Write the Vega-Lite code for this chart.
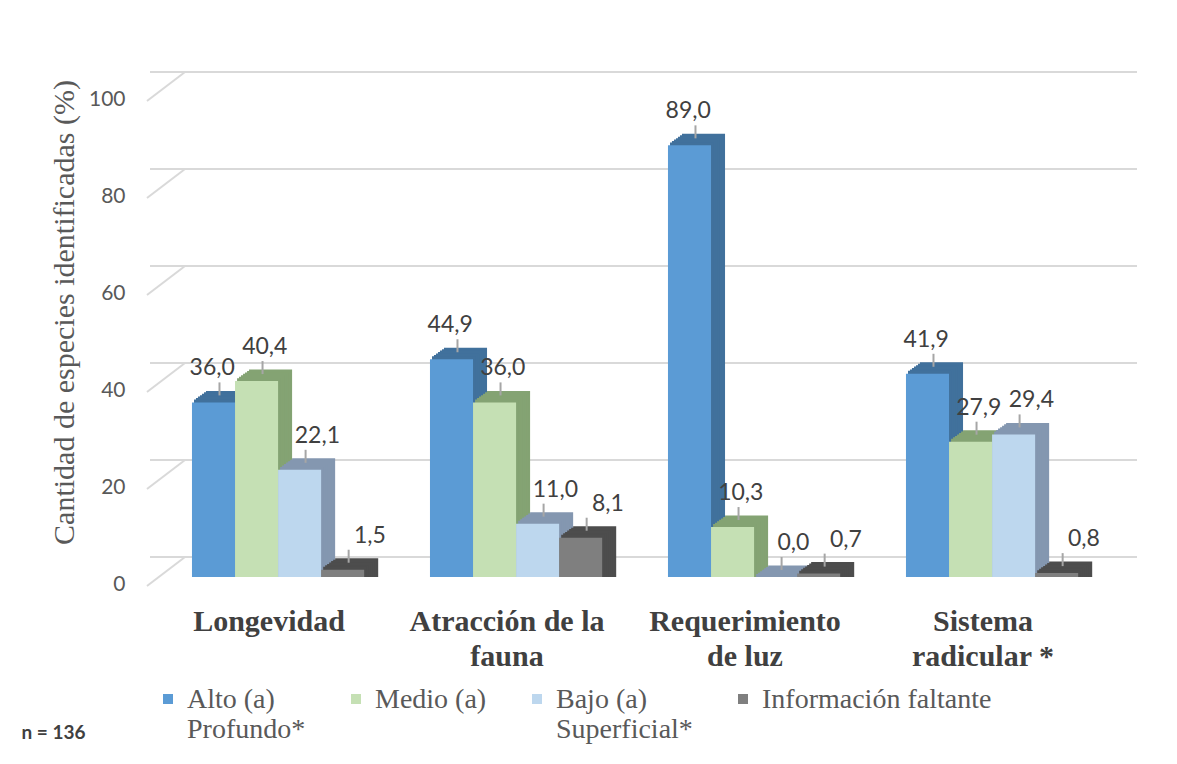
{
  "$schema": "https://vega.github.io/schema/vega-lite/v6.json",
  "width": 952,
  "height": 485,
  "autosize": {"type": "none"},
  "padding": {"left": 150, "top": 92, "right": 75, "bottom": 187},
  "background": "white",
  "title": {"text": "n = 136", "orient": "bottom", "anchor": "start", "frame": "bounds", "font": "Lato", "fontWeight": "bold", "fontSize": 19, "color": "#404040", "dx": -28, "offset": -20},
  "config": {
    "view": {"stroke": null},
    "locale": {"number": {"decimal": ",", "thousands": ".", "grouping": [3], "currency": ["", " €"]}},
    "axisX": {"domain": false, "ticks": false, "tickSize": 0, "grid": false, "labelAngle": 0, "labelFont": "Liberation Serif", "labelFontWeight": "bold", "labelFontSize": 30, "labelColor": "#404040", "labelPadding": 44, "labelBaseline": "middle", "labelLineHeight": 35, "labelLimit": 400},
    "axisY": {"domain": false, "ticks": false, "tickSize": 0, "grid": false, "labelFont": "Lato", "labelFontSize": 21, "labelColor": "#595959", "labelPadding": 25, "labelOffset": 7}
  },
  "resolve": {"scale": {"xOffset": "independent"}},
  "datasets": {
    "bars": [
      {"cat": "Longevidad", "series": "Alto (a) Profundo*", "value": 36.0},
      {"cat": "Longevidad", "series": "Medio (a)", "value": 40.4},
      {"cat": "Longevidad", "series": "Bajo (a) Superficial*", "value": 22.1},
      {"cat": "Longevidad", "series": "Información faltante", "value": 1.5},
      {"cat": "Atracción de la fauna", "series": "Alto (a) Profundo*", "value": 44.9},
      {"cat": "Atracción de la fauna", "series": "Medio (a)", "value": 36.0},
      {"cat": "Atracción de la fauna", "series": "Bajo (a) Superficial*", "value": 11.0},
      {"cat": "Atracción de la fauna", "series": "Información faltante", "value": 8.1},
      {"cat": "Requerimiento de luz", "series": "Alto (a) Profundo*", "value": 89.0},
      {"cat": "Requerimiento de luz", "series": "Medio (a)", "value": 10.3},
      {"cat": "Requerimiento de luz", "series": "Bajo (a) Superficial*", "value": 0.0},
      {"cat": "Requerimiento de luz", "series": "Información faltante", "value": 0.7},
      {"cat": "Sistema radicular *", "series": "Alto (a) Profundo*", "value": 41.9},
      {"cat": "Sistema radicular *", "series": "Medio (a)", "value": 27.9},
      {"cat": "Sistema radicular *", "series": "Bajo (a) Superficial*", "value": 29.4},
      {"cat": "Sistema radicular *", "series": "Información faltante", "value": 0.8}
    ],
    "grid": [{"g": 0}, {"g": 20}, {"g": 40}, {"g": 60}, {"g": 80}, {"g": 100}]
  },
  "layer": [
    {
      "data": {"name": "grid"},
      "mark": {"type": "rule", "color": "#d9d9d9", "strokeWidth": 2, "xOffset": 35, "x2Offset": 35, "yOffset": -20},
      "encoding": {
        "y": {"field": "g", "type": "quantitative", "scale": {"domain": [0, 100]}, "title": "Cantidad de especies identificadas (%)",
              "axis": {"values": [0, 20, 40, 60, 80, 100], "titleFont": "Liberation Serif", "titleFontWeight": "normal", "titleFontSize": 30, "titleColor": "#595959", "titlePadding": 9, "titleY": 220}}
      }
    },
    {
      "data": {"name": "grid"},
      "mark": {"type": "rule", "color": "#d9d9d9", "strokeWidth": 2, "xOffset": -3, "x2Offset": 35, "yOffset": 9, "y2Offset": -20},
      "encoding": {
        "x": {"datum": "Longevidad", "type": "nominal", "bandPosition": 0, "scale": {"paddingInner": 0, "paddingOuter": 0}, "title": null},
        "x2": {"datum": "Longevidad", "bandPosition": 0},
        "y": {"field": "g", "type": "quantitative", "scale": {"domain": [0, 100]}, "title": "Cantidad de especies identificadas (%)"},
        "y2": {"field": "g"}
      }
    },
    {
      "data": {"name": "bars"},
      "mark": {"type": "bar", "yOffset": -11.5, "y2Offset": -10},
      "encoding": {
        "x": {"field": "cat", "type": "nominal", "sort": null, "scale": {"paddingInner": 0, "paddingOuter": 0}, "title": null},
        "xOffset": {"field": "series", "type": "nominal", "sort": null, "scale": {"paddingInner": 0, "paddingOuter": 0.764, "align": 0.851}},
        "y": {"field": "value", "type": "quantitative", "stack": null, "scale": {"domain": [0, 100]}, "title": "Cantidad de especies identificadas (%)"},
        "fill": {"field": "series", "type": "nominal", "sort": null, "scale": {"range": ["#41719c", "#84a373", "#8497b0", "#4d4d4d"]}, "legend": null}
      }
    },
    {
      "data": {"name": "bars"},
      "mark": {"type": "bar", "yOffset": -10.07, "y2Offset": -8.57},
      "encoding": {
        "x": {"field": "cat", "type": "nominal", "sort": null, "scale": {"paddingInner": 0, "paddingOuter": 0}, "title": null},
        "xOffset": {"field": "series", "type": "nominal", "sort": null, "scale": {"paddingInner": 0, "paddingOuter": 0.764, "align": 0.821}},
        "y": {"field": "value", "type": "quantitative", "stack": null, "scale": {"domain": [0, 100]}, "title": "Cantidad de especies identificadas (%)"},
        "fill": {"field": "series", "type": "nominal", "sort": null, "legend": null}
      }
    },
    {
      "data": {"name": "bars"},
      "mark": {"type": "bar", "yOffset": -8.64, "y2Offset": -7.14},
      "encoding": {
        "x": {"field": "cat", "type": "nominal", "sort": null, "scale": {"paddingInner": 0, "paddingOuter": 0}, "title": null},
        "xOffset": {"field": "series", "type": "nominal", "sort": null, "scale": {"paddingInner": 0, "paddingOuter": 0.764, "align": 0.790}},
        "y": {"field": "value", "type": "quantitative", "stack": null, "scale": {"domain": [0, 100]}, "title": "Cantidad de especies identificadas (%)"},
        "fill": {"field": "series", "type": "nominal", "sort": null, "legend": null}
      }
    },
    {
      "data": {"name": "bars"},
      "mark": {"type": "bar", "yOffset": -7.21, "y2Offset": -5.71},
      "encoding": {
        "x": {"field": "cat", "type": "nominal", "sort": null, "scale": {"paddingInner": 0, "paddingOuter": 0}, "title": null},
        "xOffset": {"field": "series", "type": "nominal", "sort": null, "scale": {"paddingInner": 0, "paddingOuter": 0.764, "align": 0.760}},
        "y": {"field": "value", "type": "quantitative", "stack": null, "scale": {"domain": [0, 100]}, "title": "Cantidad de especies identificadas (%)"},
        "fill": {"field": "series", "type": "nominal", "sort": null, "legend": null}
      }
    },
    {
      "data": {"name": "bars"},
      "mark": {"type": "bar", "yOffset": -5.79, "y2Offset": -4.29},
      "encoding": {
        "x": {"field": "cat", "type": "nominal", "sort": null, "scale": {"paddingInner": 0, "paddingOuter": 0}, "title": null},
        "xOffset": {"field": "series", "type": "nominal", "sort": null, "scale": {"paddingInner": 0, "paddingOuter": 0.764, "align": 0.729}},
        "y": {"field": "value", "type": "quantitative", "stack": null, "scale": {"domain": [0, 100]}, "title": "Cantidad de especies identificadas (%)"},
        "fill": {"field": "series", "type": "nominal", "sort": null, "legend": null}
      }
    },
    {
      "data": {"name": "bars"},
      "mark": {"type": "bar", "yOffset": -4.36, "y2Offset": -2.86},
      "encoding": {
        "x": {"field": "cat", "type": "nominal", "sort": null, "scale": {"paddingInner": 0, "paddingOuter": 0}, "title": null},
        "xOffset": {"field": "series", "type": "nominal", "sort": null, "scale": {"paddingInner": 0, "paddingOuter": 0.764, "align": 0.699}},
        "y": {"field": "value", "type": "quantitative", "stack": null, "scale": {"domain": [0, 100]}, "title": "Cantidad de especies identificadas (%)"},
        "fill": {"field": "series", "type": "nominal", "sort": null, "legend": null}
      }
    },
    {
      "data": {"name": "bars"},
      "mark": {"type": "bar", "yOffset": -2.93, "y2Offset": -1.43},
      "encoding": {
        "x": {"field": "cat", "type": "nominal", "sort": null, "scale": {"paddingInner": 0, "paddingOuter": 0}, "title": null},
        "xOffset": {"field": "series", "type": "nominal", "sort": null, "scale": {"paddingInner": 0, "paddingOuter": 0.764, "align": 0.669}},
        "y": {"field": "value", "type": "quantitative", "stack": null, "scale": {"domain": [0, 100]}, "title": "Cantidad de especies identificadas (%)"},
        "fill": {"field": "series", "type": "nominal", "sort": null, "legend": null}
      }
    },
    {
      "data": {"name": "bars"},
      "mark": {"type": "bar"},
      "encoding": {
        "x": {"field": "cat", "type": "nominal", "sort": null, "scale": {"paddingInner": 0, "paddingOuter": 0}, "title": null,
              "axis": {"labelExpr": "datum.value == 'Atracción de la fauna' ? ['Atracción de la', 'fauna'] : datum.value == 'Requerimiento de luz' ? ['Requerimiento', 'de luz'] : datum.value == 'Sistema radicular *' ? ['Sistema', 'radicular *'] : datum.value"}},
        "xOffset": {"field": "series", "type": "nominal", "sort": null, "scale": {"paddingInner": 0, "paddingOuter": 0.764, "align": 0.638}},
        "y": {"field": "value", "type": "quantitative", "stack": null, "scale": {"domain": [0, 100]}, "title": "Cantidad de especies identificadas (%)"},
        "color": {"field": "series", "type": "nominal", "sort": null, "scale": {"domain": ["Alto (a) Profundo*", "Medio (a)", "Bajo (a) Superficial*", "Información faltante"], "range": ["#5b9bd5", "#c5e0b4", "#bdd7ee", "#7f7f7f"]},
                  "legend": {"orient": "none", "legendX": 4, "legendY": 580, "direction": "horizontal", "columns": 4, "padding": 0, "symbolType": "M-1,1.6H1V3.6H-1Z", "symbolSize": 100, "symbolStrokeWidth": 0, "labelFont": "Liberation Serif", "labelFontSize": 28, "labelColor": "#595959", "labelOffset": 5, "columnPadding": 36, "labelLimit": 400, "title": null, "labelBaseline": "top", "labelLineHeight": 31,
                             "labelExpr": "datum.label == 'Alto (a) Profundo*' ? ['Alto (a)', 'Profundo*'] : datum.label == 'Bajo (a) Superficial*' ? ['Bajo (a)', 'Superficial*'] : [datum.label, '']"}}
      }
    },
    {
      "data": {"name": "bars"},
      "mark": {"type": "rule", "color": "#a6a6a6", "strokeWidth": 2, "yOffset": -7, "y2Offset": -20},
      "encoding": {
        "x": {"field": "cat", "type": "nominal", "sort": null, "scale": {"paddingInner": 0, "paddingOuter": 0}, "title": null},
        "xOffset": {"field": "series", "type": "nominal", "sort": null, "scale": {"paddingInner": 0, "paddingOuter": 0.764, "align": 0.729}},
        "y": {"field": "value", "type": "quantitative", "scale": {"domain": [0, 100]}, "title": "Cantidad de especies identificadas (%)"},
        "y2": {"field": "value"}
      }
    },
    {
      "data": {"name": "bars"},
      "mark": {"type": "text", "font": "Lato", "fontSize": 23, "color": "#404040", "baseline": "middle", "align": "center", "yOffset": -34},
      "encoding": {
        "x": {"field": "cat", "type": "nominal", "sort": null, "scale": {"paddingInner": 0, "paddingOuter": 0}, "title": null},
        "xOffset": {"field": "series", "type": "nominal", "sort": null, "scale": {"paddingInner": 0, "paddingOuter": 0.764, "align": 0.775}},
        "y": {"field": "value", "type": "quantitative", "scale": {"domain": [0, 100]}, "title": "Cantidad de especies identificadas (%)"},
        "text": {"field": "value", "type": "quantitative", "format": ".1f"}
      }
    }
  ]
}
